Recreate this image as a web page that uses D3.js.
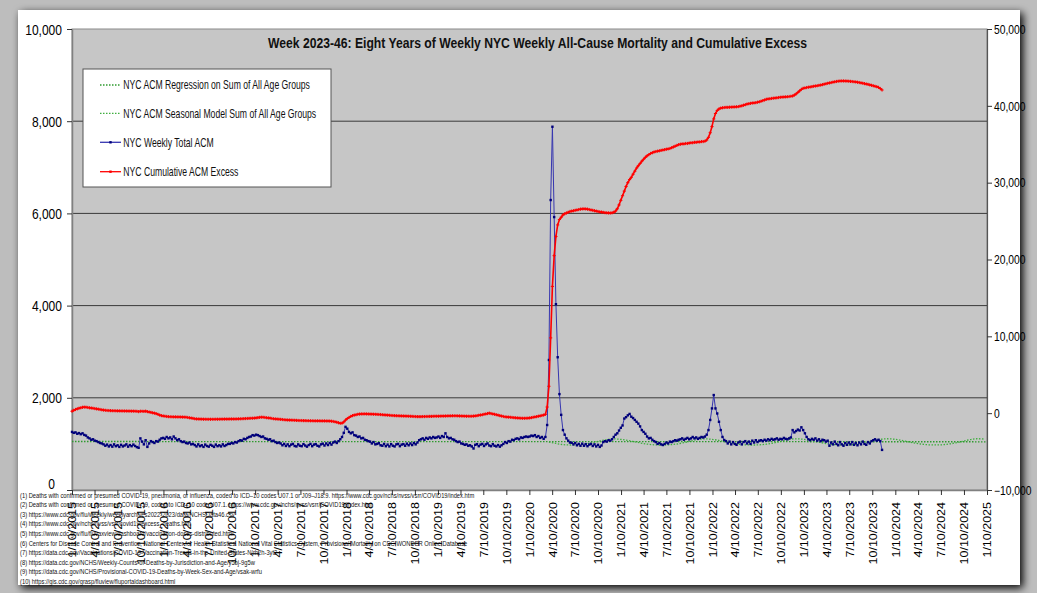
<!DOCTYPE html>
<html>
<head>
<meta charset="utf-8">
<script src="https://cdn.jsdelivr.net/npm/d3@7"></script>
<style>
  html, body { margin: 0; padding: 0; background: #b7b7b7; }
  svg { display: block; font-family: "Liberation Sans", Arial, sans-serif; }
</style>
</head>
<body>
<svg id="chart" width="1037" height="593"></svg>
<script>
// ---- data ----
const firstWeek = "2015-01-10"; // week ending dates, one point per week

// NYC weekly total all-cause mortality, by ~year block of 52 weeks
const acm2015 = [1260, 1240, 1250, 1220, 1235, 1210, 1230, 1195, 1180,
  1140, 1120, 1090, 1100, 1070, 1060, 1040, 1020, 1010,
  990, 960, 985, 945, 975, 940, 990, 950, 970, 935, 980, 945, 965, 990, 940, 975, 950, 985, 955,
  930, 915, 1120, 1050, 990, 1080, 935, 1010, 1060,
  1040, 1020, 1060, 1050, 1090, 1120];
const acm2016 = [1130, 1110, 1150, 1120, 1140, 1100, 1160, 1120, 1080, 1100,
  1060, 1040, 1050, 1020, 1010, 1030, 990, 1000,
  975, 945, 990, 950, 970, 935, 985, 955, 940, 980, 960, 935, 985, 950, 970, 945, 990, 955, 975, 1000,
  1000, 1020, 1010, 1040, 1030, 1060,
  1080, 1070, 1110, 1100, 1130, 1150, 1160, 1190];
const acm2017 = [1180, 1200, 1190, 1170, 1150, 1160, 1120,
  1110, 1090, 1100, 1060, 1070, 1040, 1020, 1030,
  1010, 970, 1000, 955, 990, 950, 985, 1000, 955, 945, 990, 960, 950, 995, 965, 940, 975,
  1000, 950, 985, 995, 960, 945, 990, 1005, 965, 1010, 975, 1020, 985, 1030, 1050, 1020,
  1060, 1100, 1150, 1240];
const acm2018 = [1370, 1330, 1260, 1230, 1250, 1190, 1180, 1150, 1160, 1120, 1130, 1090, 1080, 1060,
  1050, 1010, 1040, 990, 1000, 1015, 970, 960, 1000, 950, 985, 945, 995, 960, 945, 990,
  1000, 950, 985, 995, 960, 1005, 970, 1010, 975, 1020, 990, 1030,
  1080, 1100, 1120, 1090, 1130, 1110, 1140, 1120, 1150, 1130];
const acm2019 = [1140, 1160, 1130, 1170, 1150, 1230, 1150, 1120, 1130, 1100, 1090,
  1060, 1040, 1050, 1010, 1000, 980, 990, 960, 970, 945, 900,
  980, 995, 950, 985, 1000, 955, 990, 1010, 965, 950, 995, 960, 945, 975, 940, 970,
  1000, 1040, 1020, 1060, 1050, 1090, 1080, 1110, 1120, 1100, 1140, 1130, 1150, 1160];
const acm2020 = [1150, 1160, 1180, 1170, 1190, 1150, 1170, 1130, 1150, 1110, 1150,
  1410, 2820, 6290, 7880, 5920, 4030, 2880, 2080, 1630, 1300,
  1200, 1120,
  1070, 1030, 1025, 990, 1020, 970, 1000, 960, 1005, 960, 995, 950, 985, 1000, 955, 990, 945, 980, 935, 965,
  1040, 1060, 1050, 1080, 1070, 1100,
  1150, 1200, 1230];
const acm2021 = [1290, 1350, 1400, 1550, 1580, 1620, 1650,
  1590, 1560, 1520, 1480, 1440, 1380, 1300, 1260, 1220, 1160, 1120, 1130, 1090,
  1060, 1040, 1000, 1020, 990, 976, 1000, 1030, 1010, 1050, 1040, 1060, 1080, 1070,
  1090, 1100, 1120, 1090, 1110, 1130, 1100, 1120, 1150, 1120, 1140, 1110, 1130, 1150, 1140, 1160,
  1200, 1300];
const acm2022 = [1520, 1770, 2060, 1770, 1660, 1480, 1300, 1150, 1085,
  1060, 1010, 1050, 990, 1040, 1000, 980, 1030, 1050, 990, 1040, 1060, 1010, 1050, 1000, 1070, 1030, 1080, 1040, 1070,
  1080, 1060, 1090, 1070, 1100, 1080, 1110, 1090, 1100, 1120, 1090, 1110, 1100, 1130, 1110, 1100, 1120, 1140,
  1300, 1250, 1280, 1310, 1290];
const acm2023 = [1360, 1300, 1230, 1150,
  1100, 1080, 1110, 1090, 1120, 1070, 1100, 1060, 1090, 1080, 1050, 1070,
  960,
  1030, 990, 1050, 1000, 970, 1040, 990, 960, 1020, 980, 1030, 990, 1040, 980, 1020, 970, 1030, 990, 1050, 1000, 980, 1040, 1010,
  1060, 1080, 1100, 1070, 1090, 1060,
  870];

// NYC cumulative ACM excess (right axis)
const excess2015 = [250, 380, 480, 560, 640, 700, 760, 780, 770,
  740, 700, 670, 630, 600, 560, 520, 480, 440,
  400, 370, 350, 340, 330, 320, 320, 310, 300, 300, 290, 290, 280, 280, 270, 270, 260, 260, 250,
  240, 200, 250, 240, 230, 260, 200, 150, 100,
  50, 0, -60, -150, -250, -320];
const excess2016 = [-360, -400, -430, -450, -460, -470, -480, -480, -490, -490, -500, -510, -520,
  -530, -560, -600, -640, -680, -720, -750, -760, -770, -780, -790, -790, -800, -800, -800, -800,
  -800, -790, -790, -790, -780, -780, -770, -770, -770, -760, -760, -760, -760, -750,
  -740, -730, -720, -710, -700, -690, -680, -670, -660];
const excess2017 = [-640, -610, -580, -550, -530, -540, -560,
  -590, -620, -650, -690, -720, -750, -770, -790, -810, -830,
  -850, -870, -890, -900, -910, -920, -930, -940, -950, -960, -960, -970, -970, -980, -980, -990, -990, -1000, -1000, -1000,
  -1000, -1010, -1010, -1010, -1020, -1020, -1030, -1050, -1080, -1120, -1180, -1250, -1320, -1300, -1150];
const excess2018 = [-900, -700, -560, -420, -320, -250, -200, -150,
  -120, -100, -100, -90, -100, -110, -120, -130, -140, -150, -160, -170,
  -180, -200, -220, -240, -260, -280, -300, -310, -320, -330, -340, -350, -360, -370, -380, -390, -400, -410, -420, -430,
  -440, -450, -450, -450, -440, -440, -430, -430, -420, -420, -410, -400];
const excess2019 = [-400, -400, -390, -380, -380, -370, -360, -350, -350, -340, -340, -340, -350, -360, -370,
  -380, -390, -400, -400, -410, -400, -380, -350, -320, -280, -240, -200, -150, -100, -50, 0,
  -50, -100, -150, -200, -260, -320, -380, -430, -470, -500, -520, -540, -560, -580, -600, -620, -640, -660, -670, -670, -660];
const excess2020 = [-650, -620, -580, -540, -490, -450, -400, -350, -300, -250, -150,
  800, 3500, 9800, 16500, 20500, 23000, 24500, 25200, 25500, 25800,
  25950, 26050, 26150, 26250, 26300, 26350, 26400, 26450, 26500, 26550,
  26580, 26600, 26580, 26550, 26500, 26450, 26400, 26350, 26300, 26250,
  26200, 26170, 26130, 26100, 26080, 26060, 26050, 26080, 26150, 26300, 26600];
const excess2021 = [27100, 27700, 28300, 28900, 29500, 30000, 30400, 30700, 31100, 31500, 31900,
  32200, 32500, 32800, 33050, 33300, 33500, 33650, 33800, 33900, 34000, 34050,
  34100, 34150, 34200, 34250, 34300, 34350, 34400, 34450, 34550, 34650, 34750, 34850, 34950, 35000, 35050, 35050,
  35100, 35100, 35150, 35200, 35200, 35250, 35250, 35300, 35300, 35350, 35350, 35400, 35550, 35900];
const excess2022 = [36500, 37300, 38300, 39000, 39400, 39600, 39700, 39750, 39780,
  39800, 39800, 39820, 39830, 39850, 39860, 39880, 39900, 39950, 40000, 40080, 40150, 40230, 40280, 40320, 40360, 40390, 40420,
  40470, 40530, 40600, 40680, 40760, 40850, 40900, 40930, 40960, 40990, 41020, 41050, 41080, 41110,
  41130, 41150, 41170, 41190, 41210, 41240, 41280, 41400, 41550, 41750, 41950];
const excess2023 = [42150, 42280, 42330, 42380, 42420, 42460, 42500, 42540, 42580,
  42620, 42660, 42700, 42760, 42820, 42880, 42930, 42980, 43030, 43080, 43130, 43170, 43200, 43230,
  43240, 43240, 43230, 43220, 43200, 43180, 43160, 43140, 43110, 43070, 43030, 42990, 42940, 42890, 42840,
  42790, 42730, 42670, 42610, 42540, 42490, 42400, 42250, 42060];

// seasonal model, one value every 4 weeks from week index 272 (spring 2020) to the end of 2024
const seasonalFromWeek = 272;
const seasonalModel = [1040, 1010, 985, 976, 980, 994, 1020, 1054, 1088, 1108,
  1102, 1081, 1052, 1022, 996, 981, 975, 979, 993, 1019, 1053, 1089, 1109,
  1103, 1082, 1051, 1021, 997, 981, 976, 980, 994, 1020, 1054, 1090, 1110,
  1104, 1083, 1052, 1022, 997, 982, 976, 981, 995, 1021, 1055, 1091, 1111,
  1105, 1084, 1053, 1023, 998, 982, 977, 981, 996, 1022, 1056, 1092, 1112, 1106];

// regression on the sum of all age groups: start (Jan 2015) and end (Jan 2025)
const regressionEnds = [1052, 1046];

const tickYears = d3.range(2015, 2026);
const tickMonths = [1, 4, 7, 10];
const leftTicks = [0, 2000, 4000, 6000, 8000, 10000];
const rightTicks = [-10000, 0, 10000, 20000, 30000, 40000, 50000];

const titleText = "Week 2023-46: Eight Years of Weekly NYC Weekly All-Cause Mortality and Cumulative Excess";
const seriesNames = [
  "NYC ACM Regression on Sum of All Age Groups",
  "NYC ACM Seasonal Model Sum of All Age Groups",
  "NYC Weekly Total ACM",
  "NYC Cumulative ACM Excess",
];
const footnotes = [
  "(1) Deaths with confirmed or presumed COVID-19, pneumonia, or influenza, coded to ICD–10 codes U07.1 or J09–J18.9. https://www.cdc.gov/nchs/nvss/vsrr/COVID19/index.htm",
  "(2) Deaths with confirmed or presumed COVID-19, coded to ICD–10 code U07.1. https://www.cdc.gov/nchs/nvss/vsrr/COVID19/index.htm",
  "(3) https://www.cdc.gov/flu/weekly/weeklyarchives2022-2023/data/NCHSData46.csv",
  "(4) https://www.cdc.gov/nchs/nvss/vsrr/covid19/excess_deaths.htm",
  "(5) https://www.cdc.gov/flu/fluvaxview/dashboard/vaccination-doses-distributed.html",
  "(6) Centers for Disease Control and Prevention, National Center for Health Statistics. National Vital Statistics System, Provisional Mortality on CDC WONDER Online Database",
  "(7) https://data.cdc.gov/Vaccinations/COVID-19-Vaccination-Trends-in-the-United-States-N/rh2h-3yt2",
  "(8) https://data.cdc.gov/NCHS/Weekly-Counts-of-Deaths-by-Jurisdiction-and-Age/y5bj-9g5w",
  "(9) https://data.cdc.gov/NCHS/Provisional-COVID-19-Deaths-by-Week-Sex-and-Age/vsak-wrfu",
  "(10) https://gis.cdc.gov/grasp/fluview/fluportaldashboard.html",
];

// ---- build rows ----
const start = new Date(firstWeek + "T00:00:00Z");
const weekDate = (i) => d3.utcDay.offset(start, 7 * i);

const acm = [].concat(acm2015, acm2016, acm2017, acm2018, acm2019, acm2020, acm2021, acm2022, acm2023)
  .map((v, i) => ({ date: weekDate(i), value: v }));
const excess = [].concat(excess2015, excess2016, excess2017, excess2018, excess2019, excess2020, excess2021, excess2022, excess2023)
  .map((v, i) => ({ date: weekDate(i), value: v }));
const seasonal = seasonalModel.map((v, i) => ({ date: weekDate(seasonalFromWeek + 4 * i), value: v }));
const xMin = new Date("2015-01-10T00:00:00Z");
const xMax = new Date("2025-01-10T00:00:00Z");
const regression = [{ date: xMin, value: regressionEnds[0] }, { date: xMax, value: regressionEnds[1] }];
const tickDates = [];
tickYears.forEach((y) => tickMonths.forEach((m) => {
  const d = new Date(Date.UTC(y, m - 1, 10));
  if (d <= xMax) tickDates.push(d);
}));

// ---- layout ----
const W = 1037, H = 593;
const plot = { left: 72, right: 987, top: 29, bottom: 490 };
const squash = 0.86;

const svg = d3.select("#chart");
const defs = svg.append("defs");
const shadow = defs.append("filter").attr("id", "shadow")
  .attr("x", "-5%").attr("y", "-5%").attr("width", "110%").attr("height", "110%");
shadow.append("feGaussianBlur").attr("in", "SourceAlpha").attr("stdDeviation", 4);
shadow.append("feOffset").attr("dx", 3).attr("dy", 3).attr("result", "off");
const merge = shadow.append("feMerge");
merge.append("feMergeNode").attr("in", "off");
merge.append("feMergeNode").attr("in", "SourceGraphic");

svg.append("rect").attr("width", W).attr("height", H).attr("fill", "#bdbdbd");
svg.append("rect")
  .attr("x", 18).attr("y", 10).attr("width", 1002).attr("height", 575)
  .attr("fill", "#fff").attr("filter", "url(#shadow)");

const x = d3.scaleUtc().domain([xMin, xMax]).range([plot.left, plot.right]);
const yL = d3.scaleLinear().domain([0, 10000]).range([plot.bottom, plot.top]);
const yR = d3.scaleLinear().domain([-10000, 50000]).range([plot.bottom, plot.top]);

// plot area
svg.append("rect")
  .attr("x", plot.left).attr("y", plot.top)
  .attr("width", plot.right - plot.left).attr("height", plot.bottom - plot.top)
  .attr("fill", "#c6c6c6").attr("stroke", "#8a8a8a").attr("stroke-width", 1);

svg.append("g").selectAll("line")
  .data(leftTicks.filter((t) => t > 0 && t < 10000))
  .join("line")
  .attr("x1", plot.left).attr("x2", plot.right)
  .attr("y1", (d) => yL(d)).attr("y2", (d) => yL(d))
  .attr("stroke", "#3a3a3a").attr("stroke-width", 1);

// title
svg.append("text")
  .attr("x", 268).attr("y", 48)
  .attr("textLength", 539).attr("lengthAdjust", "spacingAndGlyphs")
  .attr("font-size", 14).attr("font-weight", "bold").attr("fill", "#111")
  .text(titleText);

// axes
const gLeft = svg.append("g").attr("transform", `translate(${plot.left},0)`)
  .call(d3.axisLeft(yL).tickValues(leftTicks).tickSizeInner(5).tickSizeOuter(0).tickFormat(d3.format(",")));
gLeft.select(".domain").attr("stroke", "#808080").attr("stroke-width", 1.5);
gLeft.selectAll(".tick line").attr("stroke", "#333");
gLeft.selectAll(".tick text")
  .attr("x", 0).attr("dy", "0.36em")
  // the zero label sits a little higher and further left in the reference
  .attr("transform", (d) => (d === 0 ? `translate(-17,-7) scale(${squash},1)` : `translate(-10,0) scale(${squash},1)`))
  .attr("font-size", 14).attr("font-family", "Liberation Sans, Arial, sans-serif").attr("fill", "#000");

const gRight = svg.append("g").attr("transform", `translate(${plot.right},0)`)
  .call(d3.axisRight(yR).tickValues(rightTicks).tickSizeInner(5).tickSizeOuter(0).tickFormat(d3.format(",")));
gRight.select(".domain").attr("stroke", "#555").attr("stroke-width", 1.2);
gRight.selectAll(".tick line").attr("stroke", "#333");
gRight.selectAll(".tick text")
  .attr("x", 0).attr("dy", "0.36em")
  .attr("transform", `translate(7,0) scale(${squash},1)`)
  .attr("font-size", 12).attr("font-family", "Liberation Sans, Arial, sans-serif").attr("fill", "#000");

const gBottom = svg.append("g").attr("transform", `translate(0,${plot.bottom})`)
  .call(d3.axisBottom(x).tickValues(tickDates).tickSizeInner(5).tickSizeOuter(0).tickFormat(d3.utcFormat("%-m/%-d/%Y")));
gBottom.select(".domain").attr("stroke", "#808080").attr("stroke-width", 1.5);
gBottom.selectAll(".tick line").attr("stroke", "#333");
gBottom.selectAll(".tick text")
  .attr("x", 0).attr("y", 0).attr("dy", "0.36em")
  .attr("text-anchor", "end")
  .attr("transform", `translate(0,12) scale(${squash},1) rotate(-90)`)
  .attr("font-size", 12.5).attr("font-family", "Liberation Sans, Arial, sans-serif").attr("fill", "#000");

// series
const lineL = d3.line().x((d) => x(d.date)).y((d) => yL(d.value));
const lineR = d3.line().x((d) => x(d.date)).y((d) => yR(d.value));

svg.append("path").datum(regression)
  .attr("d", lineL).attr("fill", "none")
  .attr("stroke", "#2f9a2f").attr("stroke-width", 1.3).attr("stroke-dasharray", "1.5,1.5");
svg.append("path").datum(seasonal)
  .attr("d", lineL.curve(d3.curveNatural)).attr("fill", "none")
  .attr("stroke", "#3fae3f").attr("stroke-width", 1.3).attr("stroke-dasharray", "1.5,1.5");
lineL.curve(d3.curveLinear);

svg.append("path").datum(acm)
  .attr("d", lineL).attr("fill", "none")
  .attr("stroke", "#3636b0").attr("stroke-width", 1);
svg.append("g").selectAll("rect")
  .data(acm)
  .join("rect")
  .attr("x", (d) => x(d.date) - 1.2).attr("y", (d) => yL(d.value) - 1.2)
  .attr("width", 2.4).attr("height", 2.4)
  .attr("fill", "#00007a");

svg.append("path").datum(excess)
  .attr("d", lineR).attr("fill", "none")
  .attr("stroke", "#ff0000").attr("stroke-width", 1.6);
svg.append("g").selectAll("path")
  .data(excess)
  .join("path")
  .attr("d", (d) => {
    const cx = x(d.date), cy = yR(d.value);
    return `M${cx - 1.6},${cy}H${cx + 1.6}M${cx},${cy - 1.6}V${cy + 1.6}`;
  })
  .attr("stroke", "#ff0000").attr("stroke-width", 1);

// legend
const legend = svg.append("g").attr("transform", "translate(83,69)");
legend.append("rect").attr("width", 248).attr("height", 118)
  .attr("fill", "#fff").attr("stroke", "#555").attr("stroke-width", 1);
const legendRows = [
  { name: seriesNames[0], color: "#2f9a2f", dash: "1.5,1.5", marker: null },
  { name: seriesNames[1], color: "#3fae3f", dash: "1.5,1.5", marker: null },
  { name: seriesNames[2], color: "#3636b0", dash: null, marker: "#00007a" },
  { name: seriesNames[3], color: "#ff0000", dash: null, marker: "#ff0000" },
];
const rowY = [16, 44.3, 73.3, 102.7];
const rows = legend.selectAll("g.row").data(legendRows).join("g")
  .attr("class", "row")
  .attr("transform", (d, i) => `translate(0,${rowY[i]})`);
rows.append("line")
  .attr("x1", 17).attr("x2", 38)
  .attr("stroke", (d) => d.color).attr("stroke-width", 1.3)
  .attr("stroke-dasharray", (d) => d.dash);
rows.filter((d) => d.marker).append("rect")
  .attr("x", 26.3).attr("y", -1.2).attr("width", 2.4).attr("height", 2.4)
  .attr("fill", (d) => d.marker);
const legendText = rows.append("g")
  .attr("class", "label")
  .append("text")
  .attr("x", 0).attr("y", 0)
  .attr("font-size", 12).attr("fill", "#111")
  .text((d) => d.name);
// first entry spans 187px in the reference; the others share its squeeze
const legendScale = 187 / legendText.node().getComputedTextLength();
rows.select("g.label").attr("transform", `translate(40.3,4.3) scale(${legendScale},1)`);

// footnotes: one shared squeeze, from line (1) which spans 455px
const foot = svg.append("g").selectAll("text")
  .data(footnotes)
  .join("text")
  .attr("x", 0).attr("y", 0)
  .attr("font-size", 7.4).attr("fill", "#111")
  .text((d) => d);
const footScale = 455 / foot.node().getComputedTextLength();
foot.attr("transform", (d, i) => `translate(20,${497.5 + i * 9.6}) scale(${footScale},1)`);
</script>
</body>
</html>
